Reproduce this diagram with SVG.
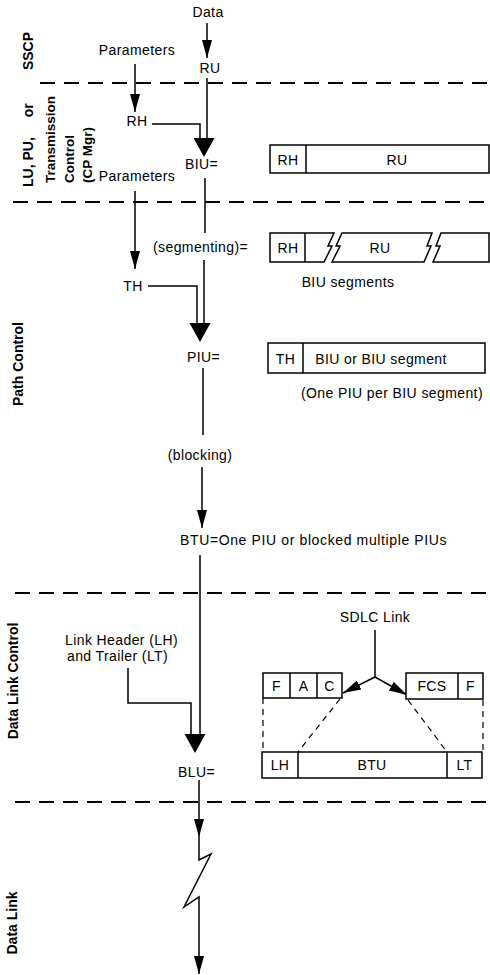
<svg xmlns="http://www.w3.org/2000/svg" width="490" height="975" viewBox="0 0 490 975">
<style>
text{font-family:"Liberation Sans",Arial,sans-serif;fill:#000}
.t{font-size:14px;letter-spacing:0.4px}
.c{text-anchor:middle}
.lb{font-size:14px;font-weight:bold}
.ln{fill:none;stroke:#000;stroke-width:1.5}
.dl{fill:none;stroke:#000;stroke-width:2;stroke-dasharray:15 9}
.dt{fill:none;stroke:#000;stroke-width:1.2;stroke-dasharray:6 5}
.bx{fill:#fff;stroke:#000;stroke-width:1.5}
.ah{fill:#000}
</style>
<defs>
<marker id="sa" viewBox="0 0 18 10" refX="18" refY="5" markerWidth="18" markerHeight="10" markerUnits="userSpaceOnUse" orient="auto">
<path d="M0,0 L18,5 L0,10 Z" fill="#000"/>
</marker>
<path id="big" d="M-10.5,-19 L10.5,-19 L0,0 Z"/>
</defs>

<g id="dividers">
<line class="dl" x1="40" y1="83" x2="490" y2="83"/>
<line class="dl" x1="13" y1="202" x2="490" y2="202"/>
<line class="dl" x1="15" y1="593" x2="490" y2="593"/>
<line class="dl" x1="15" y1="802" x2="490" y2="802"/>
</g>

<g id="layer-labels">
<text class="lb c" transform="translate(33,51) rotate(-90)">SSCP</text>
<text class="lb" transform="translate(33,187) rotate(-90)">LU, PU, <tspan dx="16">or</tspan></text>
<text class="lb" style="font-size:13.5px" transform="translate(55,183) rotate(-90)"><tspan x="0" y="0">Transmission</tspan><tspan x="0" y="19">Control</tspan><tspan x="0" y="37">(CP Mgr)</tspan></text>
<text class="lb c" transform="translate(23,364) rotate(-90)">Path Control</text>
<text class="lb c" transform="translate(18,681) rotate(-90)">Data Link Control</text>
<text class="lb c" transform="translate(17,923) rotate(-90)">Data Link</text>
</g>

<g id="connectors">
<line class="ln" x1="207" y1="23" x2="207" y2="58" marker-end="url(#sa)"/>
<line class="ln" x1="207" y1="78" x2="207" y2="142"/>
<polyline class="ln" points="152,124 200,124 200,142"/>
<use href="#big" class="ah" x="204" y="157"/>
<line class="ln" x1="135" y1="64" x2="135" y2="112" marker-end="url(#sa)"/>
<line class="ln" x1="205" y1="178" x2="205" y2="233"/>
<line class="ln" x1="135" y1="191" x2="135" y2="269" marker-end="url(#sa)"/>
<line class="ln" x1="204" y1="260" x2="204" y2="327"/>
<polyline class="ln" points="148,286 197,286 197,327"/>
<use href="#big" class="ah" x="200" y="342"/>
<line class="ln" x1="203" y1="368" x2="203" y2="435"/>
<line class="ln" x1="202" y1="467" x2="202" y2="528" marker-end="url(#sa)"/>
<line class="ln" x1="200" y1="555" x2="200" y2="738"/>
<polyline class="ln" points="128,668 128,703 191,703 191,738"/>
<use href="#big" class="ah" x="195" y="753"/>
<line class="ln" x1="199" y1="780" x2="199" y2="837" marker-end="url(#sa)"/>
<polyline class="ln" points="199,837 199,860 211,854 184,907 199,897 199,974" marker-end="url(#sa)"/>
<line class="ln" x1="375" y1="630" x2="375" y2="677"/>
<line class="ln" x1="375" y1="677" x2="343" y2="693" marker-end="url(#sa)"/>
<line class="ln" x1="375" y1="677" x2="407" y2="695" marker-end="url(#sa)"/>
<line class="dt" x1="263" y1="698" x2="263" y2="752"/>
<line class="dt" x1="340" y1="699" x2="298" y2="752"/>
<line class="dt" x1="408" y1="700" x2="447" y2="752"/>
<line class="dt" x1="483" y1="700" x2="483" y2="752"/>
</g>

<g id="data"><text class="t c" x="208" y="17">Data</text></g>
<g id="ru"><text class="t c" x="210" y="73">RU</text></g>
<g id="params1"><text class="t c" x="137" y="55">Parameters</text></g>
<g id="rh"><text class="t c" x="137" y="126">RH</text></g>
<g id="biu"><text class="t" x="185" y="169">BIU=</text></g>
<g id="params2"><text class="t c" x="137" y="181">Parameters</text></g>
<g id="segmenting"><text class="t" x="153" y="252">(segmenting)=</text></g>
<g id="th"><text class="t c" x="133" y="291">TH</text></g>
<g id="piu"><text class="t" x="187" y="362">PIU=</text></g>
<g id="blocking"><text class="t c" x="200" y="460">(blocking)</text></g>
<g id="btu"><text class="t" x="180" y="545" textLength="267">BTU=One PIU or blocked multiple PIUs</text></g>
<g id="lhlt"><text class="t" x="65" y="645">Link Header (LH)</text><text class="t" x="67" y="661">and Trailer (LT)</text></g>
<g id="blu"><text class="t" x="178" y="777">BLU=</text></g>
<g id="sdlc"><text class="t c" x="375" y="622">SDLC Link</text></g>

<g id="biu-format">
<rect class="bx" x="270" y="145" width="219" height="28"/>
<line class="ln" x1="306" y1="145" x2="306" y2="173"/>
<text class="t c" x="288" y="165">RH</text>
<text class="t c" x="397" y="165">RU</text>
</g>

<g id="biu-segments">
<path class="bx" d="M270,233 L334,233 L328,246 L332,246 L324,262 L270,262 Z"/>
<line class="ln" x1="305" y1="233" x2="305" y2="262"/>
<path class="bx" d="M342,233 L432,233 L427,246 L431,246 L424,262 L332,262 L340,246 L336,246 Z"/>
<path class="bx" d="M441,233 L489,233 L489,262 L433,262 L440,246 L436,246 Z"/>
<text class="t c" x="288" y="253">RH</text>
<text class="t c" x="380" y="253">RU</text>
<text class="t c" x="348" y="287">BIU segments</text>
</g>

<g id="piu-format">
<rect class="bx" x="268" y="343" width="217" height="30"/>
<line class="ln" x1="303" y1="343" x2="303" y2="373"/>
<text class="t c" x="285.5" y="364">TH</text>
<text class="t c" x="381" y="364">BIU or BIU segment</text>
<text class="t c" x="392" y="398">(One PIU per BIU segment)</text>
</g>

<g id="fac">
<rect class="bx" x="263" y="673" width="79" height="25"/>
<line class="ln" x1="290" y1="673" x2="290" y2="698"/>
<line class="ln" x1="317" y1="673" x2="317" y2="698"/>
<text class="t c" x="276.5" y="691">F</text>
<text class="t c" x="303.5" y="691">A</text>
<text class="t c" x="329.5" y="691">C</text>
</g>

<g id="fcsf">
<rect class="bx" x="406" y="673" width="77" height="26"/>
<line class="ln" x1="458" y1="673" x2="458" y2="699"/>
<text class="t c" x="432" y="691">FCS</text>
<text class="t c" x="470.5" y="691">F</text>
</g>

<g id="blu-format">
<rect class="bx" x="262" y="752" width="220" height="26"/>
<line class="ln" x1="298" y1="752" x2="298" y2="778"/>
<line class="ln" x1="447" y1="752" x2="447" y2="778"/>
<text class="t c" x="280" y="770">LH</text>
<text class="t c" x="372" y="770">BTU</text>
<text class="t c" x="464.5" y="770">LT</text>
</g>
</svg>
